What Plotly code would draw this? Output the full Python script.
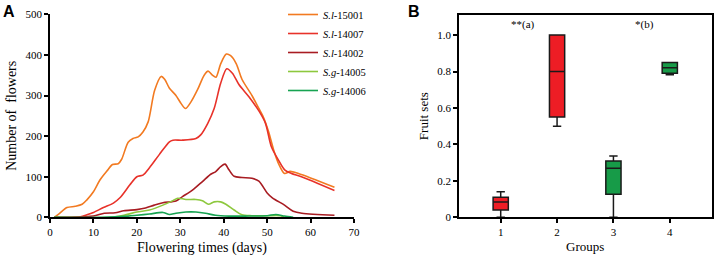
import plotly.graph_objects as go

# ---------------- Panel A data ----------------
series_names = ["<i>S.l</i>-15001", "<i>S.l</i>-14007", "<i>S.l</i>-14002",
                "<i>S.g</i>-14005", "<i>S.g</i>-14006"]
series_colors = ["#F27A21", "#E8322A", "#A81C22", "#8DC83E", "#17A352"]

days_15001 = [1, 2, 3.9, 5.8, 7.4, 8.5, 10, 11.5, 13.1, 14.4, 15.7, 16.5, 18, 19.1, 20.3, 21.4,
              22.6, 24.1, 25.6, 26.4, 27.5, 29, 30.2, 31.2, 32.5, 34, 35.5, 36.4, 37.4, 38.2,
              39.3, 40.6, 41.6, 42.9, 44.2, 46.5, 48.1, 49, 50.3, 51.5, 52.6, 54, 55.3, 57.2, 65.5]
vals_15001 = [0, 8, 24, 27, 32, 43, 63, 92, 114, 130, 132, 143, 185, 194, 198, 210,
              235, 313, 347, 340, 318, 300, 280, 268, 285, 315, 350, 360, 350, 345,
              378, 402, 398, 378, 340, 300, 268, 250, 212, 166, 133, 108, 113, 108, 74]

days_14007 = [1, 4, 7, 8.5, 10, 12.3, 14.6, 16.1, 18.4, 20, 21.4, 22.9, 25.2, 27.5, 28.3, 30.5,
              33.6, 34.7, 36.3, 37.8, 39.3, 40.7, 42, 43.5, 45.8, 48.1, 49.6, 51, 52.6, 54.1,
              55.6, 57.9, 65.5]
vals_14007 = [0, 0, 1, 6, 12, 24, 35, 48, 80, 100, 104, 122, 155, 186, 190, 190,
              194, 203, 231, 268, 330, 366, 355, 327, 297, 262, 232, 173, 141, 116,
              108, 100, 66]

days_14002 = [1, 5, 10, 12.5, 15, 17, 20, 22, 24, 26, 29, 30.5, 32.8, 35.1, 37, 38.1, 39.3,
              40.3, 41.2, 42.4, 44.2, 46.5, 48.1, 50, 51.2, 54, 56, 58, 65.5]
vals_14002 = [0, 0, 3, 10, 11, 16, 19, 23, 30, 36, 40, 51, 67, 88, 106, 112, 125,
              131, 117, 101, 98, 96, 89, 60, 48, 30, 15, 10, 5]

days_14005 = [1, 14, 17, 20, 22.9, 26, 28.3, 29.4, 31.3, 33.6, 35.1, 36.5, 37.8, 39.3, 40.5,
              42.4, 44.2, 46.5, 50, 53, 54]
vals_14005 = [0, 0, 5, 13, 18, 30, 41, 47, 44, 44, 41, 32, 38, 38, 32,
              18, 6, 4, 4, 4, 0]

days_14006 = [1, 12, 18, 20, 22.9, 26, 27.5, 29, 31.3, 33.6, 35.8, 38.1, 41.2, 45, 50, 52,
              54, 56]
vals_14006 = [0, 0, 3, 5, 8, 12, 7, 10, 13, 13, 10, 5, 3, 3, 4, 7,
              3, 0]

series_days = [days_15001, days_14007, days_14002, days_14005, days_14006]
series_vals = [vals_15001, vals_14007, vals_14002, vals_14005, vals_14006]

a_xticks = [0, 10, 20, 30, 40, 50, 60, 70]
a_yticks = [0, 100, 200, 300, 400, 500]

# ---------------- Panel B data ----------------
groups = [1, 2, 3, 4]
box_colors = ["#EE1D25", "#EE1D25", "#179B48", "#179B48"]
b_lower = [0.0, 0.50, 0.0, 0.782]
b_q1 = [0.04, 0.55, 0.126, 0.79]
b_median = [0.084, 0.80, 0.269, 0.82]
b_q3 = [0.11, 1.00, 0.309, 0.85]
b_upper = [0.14, 1.00, 0.336, 0.85]
b_yticks = [0, 0.2, 0.4, 0.6, 0.8, 1.0]
b_yticklabels = ["0", "0.2", "0.4", "0.6", "0.8", "1.0"]
sig_labels = ["**(a)", "*(b)"]
sig_x = [1.4, 3.55]
sig_y = [1.06, 1.06]

SERIF = "Liberation Serif"

fig = go.Figure()

for name, col, d, v in zip(series_names, series_colors, series_days, series_vals):
    fig.add_trace(go.Scatter(
        x=d, y=v, mode="lines", name=name,
        line=dict(color=col, width=1.6, shape="spline", smoothing=0.8),
        xaxis="x", yaxis="y", showlegend=True))

for g, c, lo, q1, md, q3, up in zip(groups, box_colors, b_lower, b_q1, b_median, b_q3, b_upper):
    fig.add_trace(go.Box(
        x=[g], lowerfence=[lo], q1=[q1], median=[md], q3=[q3], upperfence=[up],
        fillcolor=c, line=dict(color="#1a1a1a", width=1.5),
        width=0.27, whiskerwidth=0.55, xaxis="x2", yaxis="y2", showlegend=False,
        boxpoints=False))

axis_common = dict(showgrid=False, zeroline=False, showline=True, linecolor="black",
                   linewidth=1.5, ticks="outside", ticklen=4, tickwidth=1.5,
                   tickcolor="black", automargin=False,
                   tickfont=dict(family=SERIF, size=11, color="black"))

fig.update_layout(
    width=716, height=259,
    margin=dict(l=0, r=0, t=0, b=0),
    paper_bgcolor="white", plot_bgcolor="white",
    font=dict(family=SERIF, color="black"),
    xaxis=dict(domain=[50 / 716, 354 / 716], range=[0, 70], tickvals=a_xticks,
               title=dict(text="Flowering times (days)", font=dict(size=14, family=SERIF), standoff=5),
               anchor="y", **axis_common),
    yaxis=dict(domain=[1 - 217.3 / 259, 1 - 14.3 / 259], range=[0, 500], tickvals=a_yticks,
               title=dict(text="Number of  flowers", font=dict(size=14, family=SERIF), standoff=6),
               anchor="x", **axis_common),
    xaxis2=dict(domain=[459 / 716, 711.5 / 716], range=[0.26, 4.74], tickvals=groups,
                title=dict(text="Groups", font=dict(size=13, family=SERIF), standoff=5),
                anchor="y2", mirror=True, **axis_common),
    yaxis2=dict(domain=[1 - 217.3 / 259, 1 - 15 / 259], range=[0, 1.11], tickvals=b_yticks,
                ticktext=b_yticklabels,
                title=dict(text="Fruit sets", font=dict(size=13, family=SERIF), standoff=6),
                anchor="x2", mirror=True, **axis_common),
    legend=dict(x=283 / 716, y=1.0, xanchor="left", yanchor="top",
                bgcolor="rgba(0,0,0,0)", font=dict(family=SERIF, size=10.5, color="black"),
                tracegroupgap=0, itemwidth=30),
)

for t, xx, yy in zip(sig_labels, sig_x, sig_y):
    fig.add_annotation(x=xx, y=yy, xref="x2", yref="y2", text=t, showarrow=False,
                       font=dict(family=SERIF, size=11, color="black"))

fig.add_annotation(x=1 / 716, y=1 - 1 / 259, xref="paper", yref="paper", text="<b>A</b>",
                   showarrow=False, xanchor="left", yanchor="top",
                   font=dict(family="Liberation Sans", size=16, color="black"))
fig.add_annotation(x=406 / 716, y=1 - 1 / 259, xref="paper", yref="paper", text="<b>B</b>",
                   showarrow=False, xanchor="left", yanchor="top",
                   font=dict(family="Liberation Sans", size=16, color="black"))

fig.write_html("out.html", config={"displayModeBar": False},
               post_script="document.body.style.margin='0';document.body.style.overflow='hidden';")
